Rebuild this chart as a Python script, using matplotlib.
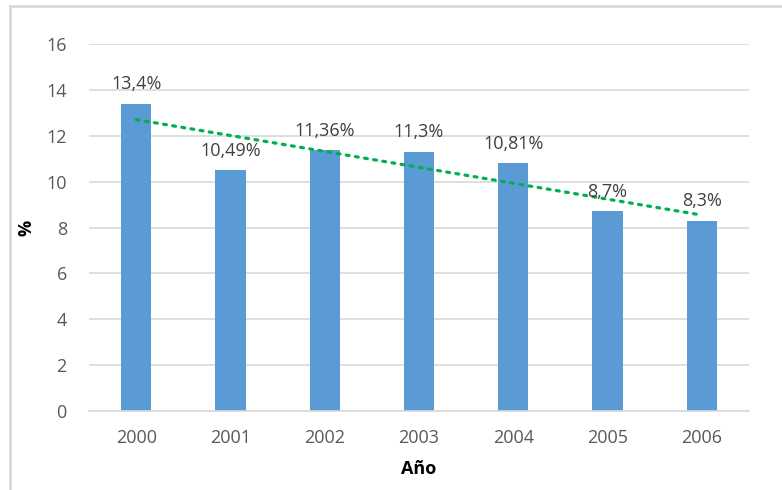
import numpy as np
import matplotlib.pyplot as plt
from matplotlib.lines import Line2D

# datos
years = ['2000', '2001', '2002', '2003', '2004', '2005', '2006']
values = [13.4, 10.49, 11.36, 11.3, 10.81, 8.7, 8.3]
labels = [f"{v:g}".replace('.', ',') + '%' for v in values]

plt.rcParams['font.family'] = ['Open Sans', 'DejaVu Sans']

fig = plt.figure(figsize=(7.82, 4.90), dpi=100)
ax = fig.add_axes([89/782, 1 - 411/490, 660/782, 367/490])

x = np.arange(len(years))
ax.bar(x, values, width=0.32, color='#5B9BD5', zorder=2)

# etiquetas de valor
for xi, v, lab in zip(x, values, labels):
    ax.annotate(lab, (xi, v), xytext=(0, 7.5), textcoords='offset points',
                ha='center', va='bottom', fontsize=13, color='#404040', zorder=4)

# linea de tendencia lineal
m, b = np.polyfit(x, values, 1)
ax.plot(x, m * x + b, color='#00B050', linestyle=(0, (0.9, 2.0)),
        linewidth=2.3, zorder=3, dash_capstyle='round')

ax.set_xlim(-0.5, 6.5)
ax.set_ylim(0, 16)
ax.set_yticks(range(0, 17, 2))
ax.set_xticks(x)
ax.set_xticklabels(years)
ax.grid(axis='y', color='#D9D9D9', linewidth=1.2, zorder=0)
for s in ['top', 'right', 'left']:
    ax.spines[s].set_visible(False)
ax.spines['bottom'].set_color('#D9D9D9')
ax.spines['bottom'].set_linewidth(1.2)
ax.tick_params(length=0, labelsize=13, labelcolor='#595959')
ax.tick_params(axis='x', pad=13)
ax.tick_params(axis='y', pad=16)

ax.set_xlabel('Año', fontsize=13, fontweight='bold', color='#000000', labelpad=9)
ax.set_ylabel('%', fontsize=13, fontweight='bold', color='#000000', labelpad=8)

# marco
fig.add_artist(Line2D([10/782, 10/782], [0, 1 - 6/490], color='#D9D9D9', linewidth=2))
fig.add_artist(Line2D([10/782, 1], [1 - 6/490, 1 - 6/490], color='#D9D9D9', linewidth=2))

fig.savefig('out.png', dpi=100, facecolor='white')
